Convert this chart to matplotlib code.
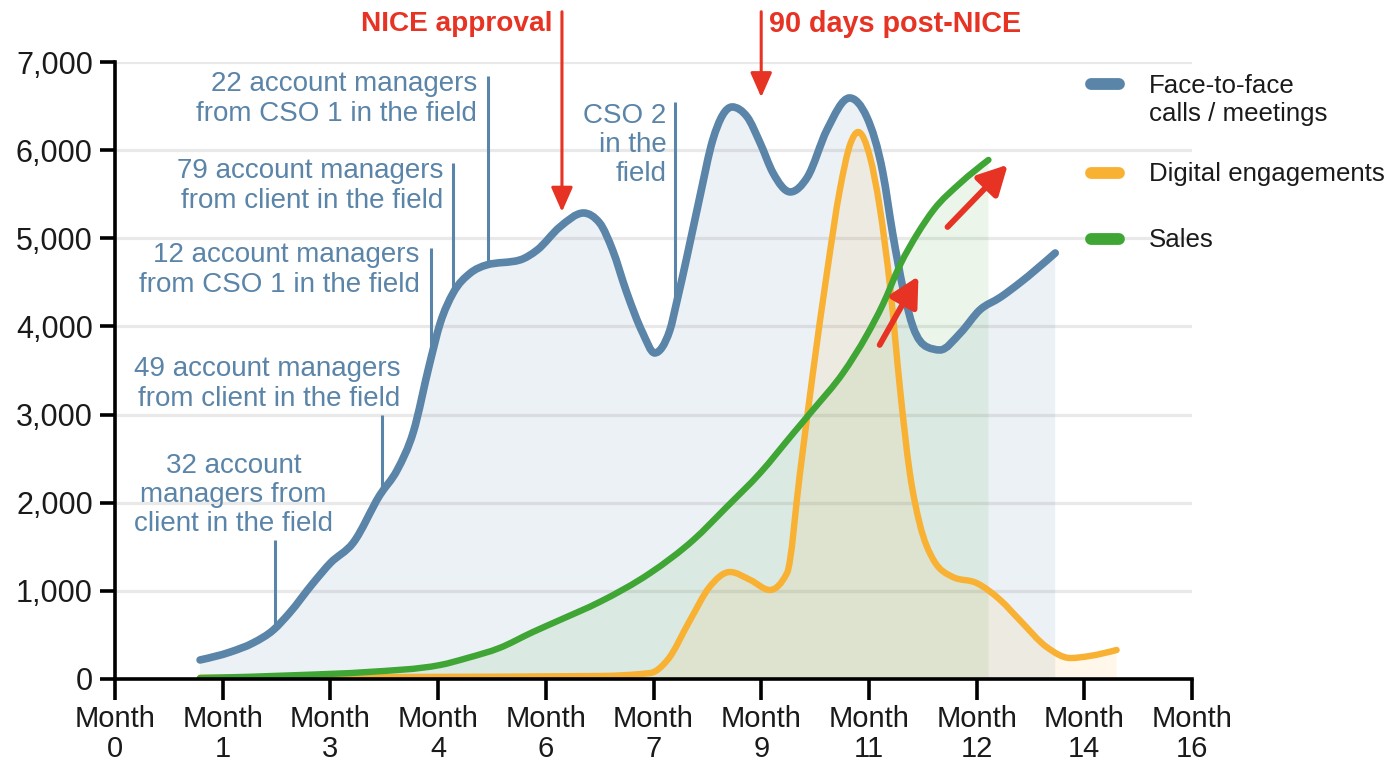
import numpy as np
import matplotlib
matplotlib.use("Agg")
import matplotlib.pyplot as plt
from matplotlib.lines import Line2D
from matplotlib.path import Path
from matplotlib.patches import PathPatch

plt.rcParams['font.family'] = ['Liberation Sans', 'DejaVu Sans']

# ---------------- data ----------------
tick_months = [0, 1, 3, 4, 6, 7, 9, 11, 12, 14, 16]
tick_labels = [f"Month\n{m}" for m in tick_months]

f2f_x = [0.79, 1.07, 1.28, 1.47, 1.62, 1.84, 2.00, 2.21, 2.46, 2.62, 2.77, 2.92,
         3.02, 3.14, 3.30, 3.45, 3.76, 3.92, 4.13, 4.35, 4.50, 4.62, 4.75, 4.90,
         5.01, 5.15, 5.22, 5.31, 5.43, 5.55, 5.73, 5.87, 5.99, 6.11, 6.27, 6.43,
         6.61, 6.82, 6.98, 7.13, 7.22, 7.32, 7.41, 7.54, 7.66, 7.85, 8.03, 8.22,
         8.40, 8.73]
f2f_y = [216, 306, 408, 556, 749, 1089, 1316, 1543, 2088, 2371, 2802, 3570,
         4039, 4380, 4606, 4697, 4754, 4867, 5128, 5287, 5174, 4867, 4390, 3926,
         3699, 3950, 4300, 4788, 5469, 6115, 6490, 6377, 6082, 5741, 5526, 5696,
         6229, 6592, 6377, 5741, 5060, 4414, 3994, 3767, 3733, 3926, 4187, 4330,
         4493, 4833]

dig_x = [0.79, 2.65, 4.50, 4.97, 5.13, 5.34, 5.52, 5.71, 5.90, 6.08, 6.24, 6.36,
         6.48, 6.61, 6.73, 6.83, 6.90, 7.01, 7.10, 7.20, 7.29, 7.38, 7.47, 7.60,
         7.78, 8.00, 8.22, 8.40, 8.65, 8.87, 9.05, 9.30]
dig_y = [15, 23, 34, 68, 216, 669, 1044, 1214, 1123, 1010, 1203, 2337,
         3472, 4606, 5548, 6080, 6206, 5923, 5355, 4414, 3279, 2337, 1770, 1350,
         1157, 1089, 896, 669, 363, 238, 261, 329]

sales_x = [0.79, 1.72, 2.34, 3.02, 3.27, 3.57, 3.88, 4.13, 4.50, 4.97, 5.37, 5.68,
           5.99, 6.30, 6.48, 6.76, 6.98, 7.13, 7.29, 7.45, 7.60, 7.85, 8.11]
sales_y = [11, 45, 79, 159, 238, 352, 533, 669, 874, 1203, 1577, 1952,
           2337, 2791, 3052, 3472, 3900, 4250, 4700, 5050, 5321, 5628, 5889]

series_names = ["Face-to-face\ncalls / meetings", "Digital engagements", "Sales"]

annot_texts = ["32 account\nmanagers from\nclient in the field",
               "49 account managers\nfrom client in the field",
               "12 account managers\nfrom CSO 1 in the field",
               "79 account managers\nfrom client in the field",
               "22 account managers\nfrom CSO 1 in the field",
               "CSO 2\nin the\nfield"]
annot_line_x = [1.486, 2.48, 2.93, 3.14, 3.46, 5.20]
annot_line_top = [1577, 2995, 4890, 5855, 6842, 6546]

# ---------------- style ----------------
BLUE = '#5a84a8'
ORANGE = '#f8b133'
GREEN = '#3fa535'
RED = '#e63323'
TXT = '#1a1a1a'


def monotone_path(x, y, close_to=None):
    """Monotone-X cubic curve through the data points (like d3.curveMonotoneX)."""
    x = np.asarray(x, float)
    y = np.asarray(y, float)
    h = np.diff(x)
    s = np.diff(y) / h
    n = len(x)
    t = np.zeros(n)
    for i in range(1, n - 1):
        if s[i - 1] * s[i] <= 0:
            t[i] = 0.0
        else:
            p = (s[i - 1] * h[i] + s[i] * h[i - 1]) / (h[i - 1] + h[i])
            t[i] = (np.sign(s[i - 1]) + np.sign(s[i])) * min(abs(s[i - 1]), abs(s[i]), 0.5 * abs(p))
    t[0] = (3 * s[0] - t[1]) / 2 if n > 2 else s[0]
    t[-1] = (3 * s[-1] - t[-2]) / 2 if n > 2 else s[-1]
    verts = [(x[0], y[0])]
    codes = [Path.MOVETO]
    for i in range(n - 1):
        d = h[i] / 3
        verts += [(x[i] + d, y[i] + t[i] * d), (x[i + 1] - d, y[i + 1] - t[i + 1] * d), (x[i + 1], y[i + 1])]
        codes += [Path.CURVE4] * 3
    if close_to is not None:
        verts += [(x[-1], close_to), (x[0], close_to), (x[0], y[0])]
        codes += [Path.LINETO, Path.LINETO, Path.CLOSEPOLY]
    return Path(verts, codes)


fig = plt.figure(figsize=(13.93, 7.61), dpi=100)
ax = fig.add_axes([115/1393, 1-679/761, (1192-115)/1393, (679-62)/761])
ax.set_xlim(0, 10)
ax.set_ylim(0, 7000)

# grid
for v in range(1000, 8000, 1000):
    ax.axhline(v, color='#e9e9e9', lw=2.3, zorder=0)

# fills
for xs, ys, c, a in [(f2f_x, f2f_y, BLUE, 0.11), (sales_x, sales_y, GREEN, 0.10),
                     (dig_x, dig_y, ORANGE, 0.10)]:
    ax.add_patch(PathPatch(monotone_path(xs, ys, close_to=0), facecolor=c, alpha=a,
                           lw=0, zorder=1))

# annotation vertical lines
bottoms = np.interp(annot_line_x, f2f_x, f2f_y)
for xv, top, bot in zip(annot_line_x, annot_line_top, bottoms):
    ax.plot([xv, xv], [bot, top], color=BLUE, lw=2.2, zorder=2, solid_capstyle='butt')

# lines
for xs, ys, c, lw, z in [(f2f_x, f2f_y, BLUE, 5.5, 4), (dig_x, dig_y, ORANGE, 4.6, 5),
                         (sales_x, sales_y, GREEN, 4.6, 6)]:
    ax.add_patch(PathPatch(monotone_path(xs, ys), facecolor='none', edgecolor=c, lw=lw,
                           capstyle='round', joinstyle='round', zorder=z))

# annotation texts
tfs = 20
ls = 1.17
ax.text(1.10, 2088, annot_texts[0], ha='center', va='center', color=BLUE, fontsize=tfs,
        linespacing=ls, multialignment='center')
ax.text(2.65, 3347, annot_texts[1], ha='right', va='center', color=BLUE, fontsize=tfs,
        linespacing=ls, multialignment='right')
ax.text(2.83, 4640, annot_texts[2], ha='right', va='center', color=BLUE, fontsize=tfs,
        linespacing=ls, multialignment='right')
ax.text(3.05, 5594, annot_texts[3], ha='right', va='center', color=BLUE, fontsize=tfs,
        linespacing=ls, multialignment='right')
ax.text(3.36, 6581, annot_texts[4], ha='right', va='center', color=BLUE, fontsize=tfs,
        linespacing=ls, multialignment='right')
ax.text(5.12, 6059, annot_texts[5], ha='right', va='center', color=BLUE, fontsize=tfs,
        linespacing=ls, multialignment='right')

# red event arrows and labels
for xv, tip in [(4.15, 5300), (6.0, 6600)]:
    ax.annotate('', xy=(xv, tip), xytext=(xv, 7570), annotation_clip=False,
                arrowprops=dict(arrowstyle='-|>,head_length=0.75,head_width=0.33',
                                mutation_scale=20, lw=2.2, color=RED,
                                shrinkA=0, shrinkB=0), zorder=8)
ax.text(4.06, 7430, "NICE approval", ha='right', va='center', color=RED,
        fontsize=20.2, fontweight='bold', clip_on=False)
ax.text(6.07, 7430, "90 days post-NICE", ha='left', va='center', color=RED,
        fontsize=20.7, fontweight='bold', clip_on=False)

# red diagonal arrows
for (x0, y0), (x1, y1) in [((7.10, 3790), (7.46, 4570)), ((7.73, 5128), (8.29, 5835))]:
    ax.annotate('', xy=(x1, y1), xytext=(x0, y0),
                arrowprops=dict(arrowstyle='-|>,head_length=0.8,head_width=0.42',
                                mutation_scale=22, lw=4.2, color=RED,
                                shrinkA=0, shrinkB=0), zorder=9)

# axes styling
for s in ['top', 'right']:
    ax.spines[s].set_visible(False)
for s in ['left', 'bottom']:
    ax.spines[s].set_linewidth(2.6)
    ax.spines[s].set_color('black')
    ax.spines[s].set_zorder(10)
ax.set_xticks(range(11))
ax.set_xticklabels(tick_labels, fontsize=21, color=TXT, linespacing=1.08)
ax.set_yticks(range(0, 8000, 1000))
ax.set_yticklabels([f"{v:,}" for v in range(0, 8000, 1000)], fontsize=22, color=TXT)
ax.tick_params(axis='x', length=15, width=2.6, pad=4, color='black')
ax.tick_params(axis='y', length=11, width=2.6, pad=5, color='black')

# legend (manual)
leg_colors = [BLUE, ORANGE, GREEN]
leg_line_y = [84, 173, 239]
leg_text_y = [100, 174, 240]
for c, ly, ty, name in zip(leg_colors, leg_line_y, leg_text_y, series_names):
    fig.add_artist(Line2D([1091/1393, 1119/1393], [1-ly/761, 1-ly/761], color=c, lw=8.5,
                          solid_capstyle='round', transform=fig.transFigure))
    fig.text(1149/1393, 1-ty/761, name, ha='left', va='center', fontsize=18.6, color=TXT,
             linespacing=1.17)

fig.savefig('out.png', dpi=100)
